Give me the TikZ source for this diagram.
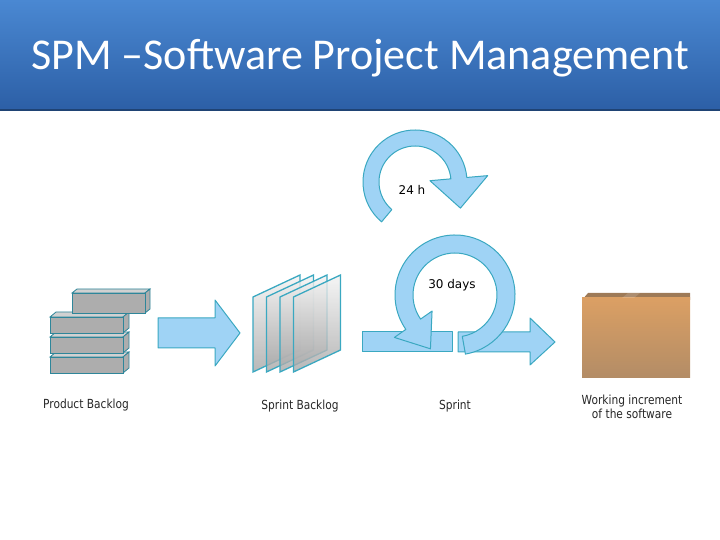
\documentclass[tikz,border=0pt]{standalone}
\usepackage{fontspec}
\setmainfont{DejaVu Sans}
\newfontfamily\titlefont{Carlito}
\usetikzlibrary{calc}
\definecolor{cyclefill}{HTML}{9FD3F5}
\definecolor{cycleline}{HTML}{3AA8C1}
\definecolor{headtop}{HTML}{4A88D2}
\definecolor{headbot}{HTML}{2C5FA6}
\begin{document}
\begin{tikzpicture}[
    x=1pt,y=1pt,
    flow/.style={fill=cyclefill,draw=cycleline,line width=1pt,line join=round},
    brick/.style={fill=black!32,draw=cycleline!80!black,line width=0.8pt},
    brick top/.style={fill=black!18,draw=cycleline!80!black,line width=0.8pt},
    sheet/.style={top color=black!5,bottom color=black!35,draw=cycleline,line width=1.3pt,fill opacity=0.8},
    caption/.style={font=\fontsize{12.5}{14}\selectfont\addfontfeatures{FakeStretch=0.85},align=center,text=black!85}
    ]
    \useasboundingbox (0,0) rectangle (720,540);
    % header
    \shade[top color=headtop,bottom color=headbot] (0,430) rectangle (720,540);
    \draw[headbot!70!black,line width=1.5pt] (0,430) -- (720,430);
    \node[text=white,font=\titlefont\fontsize{44}{48}\selectfont] (title) at (360,482) {SPM –Software Project Management};
    % product backlog
    \foreach \y in {167,187,207} {
        \draw[brick top] (50,\y+16) -- ++(6,5) -- ++(73,0) -- ++(-6,-5) -- cycle;
        \draw[brick] (123,\y) -- ++(6,5) -- ++(0,16) -- ++(-6,-5) -- cycle;
        \draw[brick] (50,\y) rectangle ++(73,16);
    }
    \draw[brick top] (72,247) -- ++(5,4) -- ++(73,0) -- ++(-5,-4) -- cycle;
    \draw[brick] (145,227) -- ++(5,4) -- ++(0,20) -- ++(-5,-4) -- cycle;
    \draw[brick] (72,227) rectangle ++(73,20);
    % arrow to sprint backlog
    \draw[flow] (158,192) -- (215,192) -- (215,174) -- (240,207) -- (215,240) -- (215,222) -- (158,222) -- cycle;
    % sprint backlog
    \foreach \i in {0,1,2,3} {
        \draw[sheet] (253+13.5*\i,168) -- ++(0,75) -- ++(47,22) -- ++(0,-75) -- cycle;
    }
    % daily cycle
    \coordinate (daily) at (415,358);
    \draw[flow] ($(daily)+(230:52)$) arc[start angle=230,end angle=5,radius=52]
        -- ($(daily)+(5:73)$) -- ($(daily)+(5:44)+(-87:30)$) -- ($(daily)+(5:15)$)
        -- ($(daily)+(5:36)$) arc[start angle=5,end angle=230,radius=36] -- cycle;
    \node (day) at (412,350) {\fontsize{12}{14}\selectfont 24 h};
    % sprint input and output
    \draw[flow] (362,188) rectangle (452,208);
    \draw[flow] (458,188) -- (530,188) -- (530,175) -- (555,198) -- (530,222) -- (530,208) -- (458,208) -- cycle;
    % sprint cycle
    \coordinate (sprint) at (455,245);
    \draw[flow] ($(sprint)+(-80:60)$) arc[start angle=-80,end angle=215,radius=60]
        -- ($(sprint)+(215:74)$) -- ($(sprint)+(215:51)+(-55:30)$) -- ($(sprint)+(215:28)$)
        -- ($(sprint)+(215:42)$) arc[start angle=215,end angle=-80,radius=42] -- cycle;
    \node (month) at (452,255) {\fontsize{12}{14}\selectfont 30 days};
    % working increment
    \fill[brown!70!black!80] (588,247) -- (690,247) -- (690,240) -- (582,240) -- cycle;
    \shade[top color=brown!75!orange!75,bottom color=brown!80!black!75] (582,162) rectangle (690,242);
    \fill[white,opacity=0.15] (622,242) -- (628,247) -- (640,247) -- (634,242) -- cycle;
    % captions
    \node[caption] (pb) at (86,135) {Product Backlog};
    \node[caption] (sb) at (300,134) {Sprint Backlog};
    \node[caption] (sp) at (455,134) {Sprint};
    \node[caption] (wi) at (632,133) {Working increment\\of the software};
\end{tikzpicture}
\end{document}
